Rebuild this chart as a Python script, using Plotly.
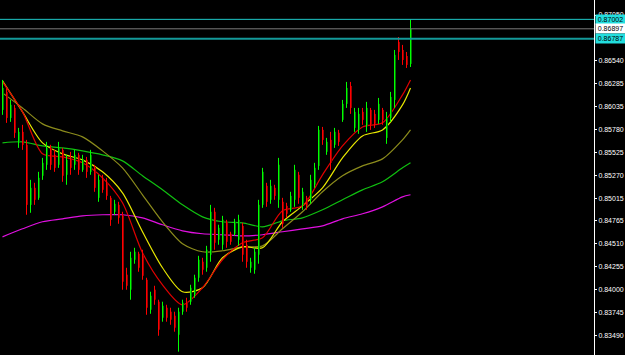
import plotly.graph_objects as go

# OHLC data (price values), one bar per index
opens = [0.85996,0.86196,0.85907,0.86018,0.85630,0.85752,0.85608,0.84941,0.85130,0.85019,
         0.85264,0.85386,0.85574,0.85497,0.85386,0.85552,0.85275,0.85441,0.85386,0.85497,
         0.85330,0.85441,0.85308,0.85363,0.85019,0.85241,0.85197,0.85019,0.84864,0.84941,
         0.84831,0.84165,0.83998,0.84331,0.84398,0.84387,0.84109,0.83776,0.83998,0.83865,
         0.83687,0.83798,0.83754,0.83709,0.83498,0.83754,0.83865,0.83865,0.83943,0.84131,
         0.84309,0.84242,0.84387,0.84864,0.84553,0.84498,0.84753,0.84620,0.84620,0.84553,
         0.84708,0.84498,0.84242,0.84220,0.84387,0.84941,0.85152,0.84997,0.85130,0.84997,
         0.84975,0.84930,0.84886,0.84997,0.85275,0.84941,0.85019,0.84997,0.85164,0.85374,
         0.85774,0.85530,0.85663,0.85608,0.85741,0.85885,0.86063,0.86262,0.85796,0.85774,
         0.85974,0.85818,0.85996,0.85952,0.85885,0.85996,0.85685,0.85907,0.86107,0.86751,
         0.86662,0.86595,0.86507]
highs = [0.86329,0.86240,0.86107,0.86052,0.85796,0.85830,0.85663,0.85219,0.85186,0.85308,
         0.85463,0.85641,0.85608,0.85552,0.85641,0.85574,0.85497,0.85530,0.85552,0.85519,
         0.85497,0.85474,0.85552,0.85386,0.85275,0.85275,0.85241,0.85041,0.84997,0.84975,
         0.84864,0.84242,0.84420,0.84464,0.84420,0.84442,0.84131,0.83976,0.84042,0.83887,
         0.83865,0.83831,0.83798,0.83754,0.83798,0.83887,0.83909,0.84053,0.84165,0.84375,
         0.84353,0.84486,0.84941,0.84908,0.84720,0.84819,0.84775,0.84642,0.84786,0.84831,
         0.84742,0.84553,0.84353,0.84464,0.84997,0.85352,0.85186,0.85219,0.85164,0.85463,
         0.85019,0.84964,0.85086,0.85386,0.85308,0.85130,0.85041,0.85275,0.85408,0.85818,
         0.85807,0.85685,0.85752,0.85796,0.85774,0.86107,0.86307,0.86307,0.86018,0.86018,
         0.86018,0.86085,0.86018,0.85996,0.86129,0.86018,0.85974,0.86196,0.86662,0.86806,
         0.86718,0.86640,0.87000]
lows = [0.85941,0.85852,0.85863,0.85685,0.85574,0.85552,0.84831,0.84853,0.84941,0.84997,
        0.85219,0.85330,0.85330,0.85308,0.85352,0.85197,0.85164,0.85275,0.85330,0.85275,
        0.85308,0.85241,0.85275,0.85086,0.84975,0.85075,0.84997,0.84708,0.84831,0.84731,
        0.83998,0.83998,0.83887,0.84287,0.84198,0.84109,0.83720,0.83731,0.83831,0.83487,
        0.83643,0.83643,0.83609,0.83532,0.83310,0.83720,0.83754,0.83831,0.83909,0.84087,
        0.84165,0.84198,0.84309,0.84442,0.84498,0.84442,0.84464,0.84498,0.84597,0.84486,
        0.84309,0.84242,0.84187,0.84176,0.84287,0.84908,0.84919,0.84953,0.84997,0.84908,
        0.84686,0.84797,0.84864,0.84919,0.84953,0.84886,0.84886,0.84953,0.85130,0.85330,
        0.85608,0.85497,0.85330,0.85574,0.85596,0.85863,0.86018,0.85952,0.85752,0.85730,
        0.85830,0.85752,0.85774,0.85796,0.85841,0.85830,0.85619,0.85863,0.86018,0.86551,
        0.86496,0.86462,0.86473]
closes = [0.86240,0.85907,0.86052,0.85741,0.85752,0.85608,0.84941,0.85130,0.84997,0.85241,
          0.85408,0.85574,0.85386,0.85352,0.85574,0.85264,0.85441,0.85352,0.85497,0.85330,
          0.85441,0.85308,0.85497,0.85130,0.85219,0.85108,0.85041,0.84775,0.84953,0.84797,
          0.84087,0.84042,0.84353,0.84420,0.84242,0.84153,0.83798,0.83931,0.83887,0.83554,
          0.83820,0.83687,0.83665,0.83576,0.83754,0.83854,0.83798,0.84020,0.84131,0.84331,
          0.84220,0.84442,0.84864,0.84520,0.84686,0.84775,0.84531,0.84531,0.84753,0.84775,
          0.84387,0.84309,0.84309,0.84420,0.84941,0.85308,0.84975,0.85152,0.85041,0.85386,
          0.84731,0.84842,0.85041,0.85330,0.85019,0.85086,0.84930,0.85219,0.85352,0.85774,
          0.85663,0.85641,0.85408,0.85752,0.85641,0.86063,0.86240,0.86018,0.85974,0.85952,
          0.85885,0.86018,0.85830,0.85841,0.86063,0.85885,0.85907,0.86140,0.86607,0.86640,
          0.86551,0.86496,0.86897]

# Moving averages read at selected bar indices
ma_idx = [0,5,10,15,20,25,30,35,40,45,50,55,60,65,70,75,80,85,90,95,100,102]
ma_red = [0.86307,0.85974,0.85508,0.85474,0.85408,0.85241,0.84964,0.84409,0.84053,0.83831,0.84020,
          0.84331,0.84520,0.84575,0.84875,0.84930,0.85275,0.85596,0.85807,0.85852,0.86163,0.86329]
ma_yellow = [0.86318,0.85974,0.85630,0.85508,0.85441,0.85308,0.85075,0.84642,0.84242,0.83976,0.84020,
             0.84353,0.84475,0.84464,0.84753,0.84930,0.85130,0.85463,0.85707,0.85774,0.86052,0.86240]
ma_olive = [0.86185,0.86018,0.85841,0.85763,0.85696,0.85541,0.85352,0.85053,0.84753,0.84509,0.84420,
            0.84431,0.84475,0.84486,0.84675,0.84864,0.85086,0.85264,0.85374,0.85452,0.85663,0.85774]
ma_green = [0.85630,0.85641,0.85596,0.85574,0.85541,0.85497,0.85430,0.85264,0.85108,0.84941,0.84808,
            0.84753,0.84742,0.84697,0.84764,0.84797,0.84886,0.84997,0.85108,0.85197,0.85352,0.85408]
ma_magenta = [0.84586,0.84675,0.84753,0.84786,0.84819,0.84831,0.84831,0.84797,0.84720,0.84653,0.84620,
              0.84609,0.84597,0.84609,0.84642,0.84675,0.84708,0.84786,0.84842,0.84919,0.85030,0.85053]

tick_vals = [0.83490,0.83745,0.84000,0.84255,0.84510,0.84765,0.85015,0.85270,
             0.85525,0.85780,0.86035,0.86285,0.86540,0.87050]
level_prices = [0.87002, 0.86897, 0.86787]
level_colors = ["#1ec8c8", "#7a7a7a", "#139a9a"]
level_widths = [1, 1, 2]
label_bg = ["#22dede", "#ffffff", "#22dede"]

fig = go.Figure()

def seg(idx, a, b, off):
    xs, ys = [], []
    for i in idx:
        xs += [i + off, i + off, None]
        ys += [a[i], b[i], None]
    return xs, ys

n = len(closes)
up = [i for i in range(n) if closes[i] >= opens[i]]
dn = [i for i in range(n) if closes[i] < opens[i]]

# MA lines
for vals, col, w in [(ma_magenta, "#e010e0", 1.2), (ma_green, "#10c010", 1.2),
                     (ma_olive, "#8c8c1c", 1.2), (ma_yellow, "#e8e800", 1.2),
                     (ma_red, "#e00000", 1.2)]:
    fig.add_trace(go.Scatter(x=ma_idx, y=vals, mode="lines",
                             line=dict(color=col, width=w, shape="spline", smoothing=0.8),
                             hoverinfo="skip"))

# candles: bright wick + dark body column
for idx, wc, bc in [(up, "#00ff00", "#007a00"), (dn, "#ff0000", "#a00000")]:
    xs, ys = seg(idx, lows, highs, 0)
    fig.add_trace(go.Scatter(x=xs, y=ys, mode="lines", line=dict(color=wc, width=1),
                             hoverinfo="skip"))
    xs, ys = seg(idx, opens, closes, 0.25)
    fig.add_trace(go.Scatter(x=xs, y=ys, mode="lines", line=dict(color=bc, width=1),
                             hoverinfo="skip"))

for p, c, w in zip(level_prices, level_colors, level_widths):
    fig.add_shape(type="line", xref="paper", x0=0, x1=1, yref="y", y0=p, y1=p,
                  line=dict(color=c, width=w))

for p, bg in zip(level_prices, label_bg):
    fig.add_annotation(xref="paper", x=1, xanchor="left", xshift=1, yref="y", y=p,
                       yanchor="middle", text=f"{p:.5f}", showarrow=False,
                       bgcolor=bg, borderpad=0, width=29, height=9, align="center",
                       font=dict(family="Liberation Sans", size=7, color="#000000"))

fig.update_layout(
    width=625, height=355,
    margin=dict(l=0, r=31, t=0, b=0),
    paper_bgcolor="#000000", plot_bgcolor="#000000",
    showlegend=False,
    xaxis=dict(range=[-0.625, 147.875], visible=False, showgrid=False, zeroline=False),
    yaxis=dict(range=[0.83273, 0.87217], side="right", showgrid=False, zeroline=False,
               showline=True, linecolor="#ffffff", linewidth=1,
               ticks="outside", ticklen=2, tickcolor="#ffffff",
               tickvals=tick_vals, ticktext=[f"{v:.5f}" for v in tick_vals],
               tickfont=dict(family="Liberation Sans", size=7, color="#ffffff")),
)

fig.write_html("out.html", config={"displayModeBar": False})
